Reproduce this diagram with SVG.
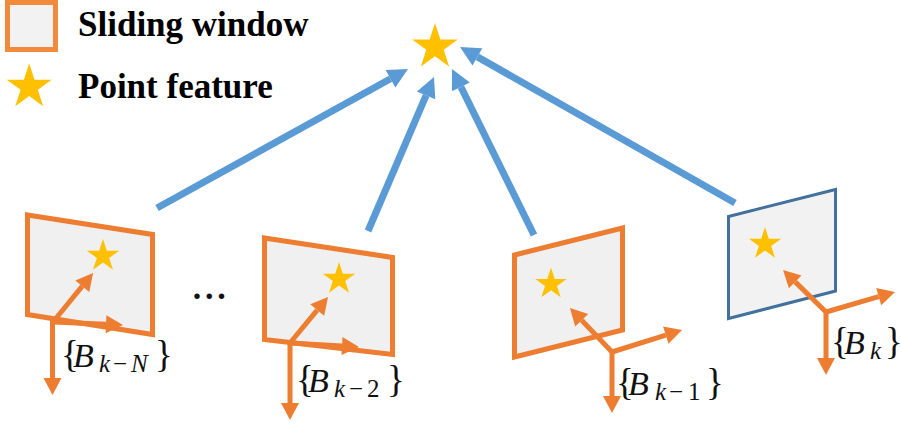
<svg xmlns="http://www.w3.org/2000/svg" xmlns:xlink="http://www.w3.org/1999/xlink" width="901" height="424" viewBox="0 0 901 424">
<style>
.frame{fill:#F0F0F0;stroke:#ED7D31;stroke-width:5;stroke-linejoin:miter}
.frameb{fill:#F2F2F2;stroke:#41719C;stroke-width:3}
.conn{stroke:#5B9BD5;stroke-width:7;fill:none;marker-end:url(#bh)}
.ax{stroke:#ED7D31;stroke-width:5;fill:none;marker-end:url(#oh)}
.leg{font-family:"Liberation Serif","Times New Roman",serif;font-weight:bold;font-size:35px;fill:#000}
.m{font-family:"Liberation Serif","Times New Roman",serif;font-size:34px;fill:#111}
.i{font-style:italic}
.s{font-size:25px}
.b{font-size:37px}
</style>
<defs>
<path id="star" d="M0,-10 L2.245,-3.09 L9.51,-3.09 L3.63,1.18 L5.88,8.09 L0,3.82 L-5.88,8.09 L-3.63,1.18 L-9.51,-3.09 L-2.245,-3.09 Z" fill="#FFC000"/>
<marker id="bh" markerUnits="userSpaceOnUse" markerWidth="22" markerHeight="22" viewBox="0 -11 21 22" refX="0" refY="0" orient="auto" overflow="visible"><path d="M0,-10 L20,0 L0,10 Z" fill="#5B9BD5"/></marker>
<marker id="oh" markerUnits="userSpaceOnUse" markerWidth="18" markerHeight="20" viewBox="0 -10 18 20" refX="0" refY="0" orient="auto" overflow="visible"><path d="M0,-9 L17,0 L0,9 Z" fill="#ED7D31"/></marker>
</defs>

<g id="legend">
<rect x="7.5" y="2.5" width="48" height="47" fill="#F2F2F2" stroke="#F28A3C" stroke-width="5"/>
<text class="leg" font-family="Liberation Serif, serif" x="78" y="36">Sliding window</text>
<use xlink:href="#star" href="#star" transform="translate(29.2,87) scale(2.37)"/>
<text class="leg" font-family="Liberation Serif, serif" x="78" y="98">Point feature</text>
</g>

<g id="point-feature">
<use xlink:href="#star" href="#star" transform="translate(435,47) scale(2.4)"/>
</g>

<g id="connectors">
<line class="conn" x1="157" y1="208" x2="390.5" y2="78.7"/>
<line class="conn" x1="368" y1="231" x2="426.1" y2="95.4"/>
<line class="conn" x1="534" y1="235" x2="460.9" y2="86.9"/>
<line class="conn" x1="735" y1="203" x2="477.4" y2="56.9"/>
</g>

<g id="frame-k-N">
<polygon class="frame" points="27.5,215 152.5,234.5 152.5,334.5 27.5,314.5"/>
<use xlink:href="#star" href="#star" transform="translate(103,256) scale(1.7)"/>
<line class="ax" x1="53" y1="322" x2="82.3" y2="286.2"/>
<line class="ax" x1="53" y1="322" x2="106" y2="324.3"/>
<line class="ax" x1="52.5" y1="319" x2="52.5" y2="378"/>
<text class="m" x="61" y="367"><tspan class="b">{</tspan><tspan class="i" x="73">B</tspan><tspan class="s i" x="99" y="372">k</tspan><tspan class="s" x="113">−</tspan><tspan class="s i" x="131">N</tspan><tspan class="b" x="155" y="367">}</tspan></text>
</g>

<text class="m" font-weight="bold" font-size="40" x="192.7 205 217.3" y="299">...</text>

<g id="frame-k-2">
<polygon class="frame" points="264.5,238 392.5,257.5 392.5,354.5 264.5,339.5"/>
<use xlink:href="#star" href="#star" transform="translate(339,279) scale(1.7)"/>
<line class="ax" x1="290" y1="343" x2="317.2" y2="310.1"/>
<line class="ax" x1="290" y1="343" x2="342" y2="346"/>
<line class="ax" x1="290" y1="340" x2="290" y2="403"/>
<text class="m" x="296" y="392"><tspan class="b">{</tspan><tspan class="i" x="308">B</tspan><tspan class="s i" x="334" y="397">k</tspan><tspan class="s" x="349">−</tspan><tspan class="s" x="367">2</tspan><tspan class="b" x="387" y="392">}</tspan></text>
</g>

<g id="frame-k-1">
<polygon class="frame" points="514.5,255 622.5,228 622.5,330 514.5,357"/>
<use xlink:href="#star" href="#star" transform="translate(551,284) scale(1.65)"/>
<line class="ax" x1="612" y1="352" x2="581.7" y2="320.3"/>
<line class="ax" x1="612" y1="352" x2="665.8" y2="335.1"/>
<line class="ax" x1="612" y1="349" x2="612" y2="396"/>
<text class="m" x="616" y="395"><tspan class="b">{</tspan><tspan class="i" x="628">B</tspan><tspan class="s i" x="655" y="400">k</tspan><tspan class="s" x="669">−</tspan><tspan class="s" x="688">1</tspan><tspan class="b" x="706" y="395">}</tspan></text>
</g>

<g id="frame-k">
<polygon class="frameb" points="728.5,216.5 835.5,189.5 835.5,291 728.5,318.5"/>
<use xlink:href="#star" href="#star" transform="translate(765,244) scale(1.7)"/>
<line class="ax" x1="826" y1="312" x2="795.2" y2="281.9"/>
<line class="ax" x1="826" y1="312" x2="878.7" y2="296.7"/>
<line class="ax" x1="826" y1="309" x2="826" y2="358"/>
<text class="m" x="831" y="354"><tspan class="b">{</tspan><tspan class="i" x="844">B</tspan><tspan class="s i" x="870" y="359">k</tspan><tspan class="b" x="885" y="354">}</tspan></text>
</g>
</svg>
